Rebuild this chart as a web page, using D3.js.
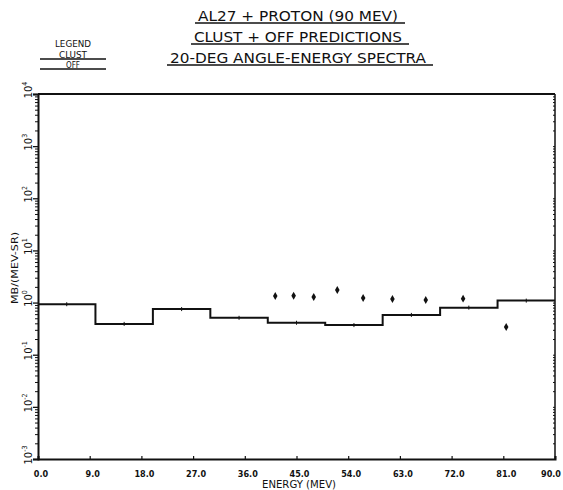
<!DOCTYPE html>
<html>
<head>
<meta charset="utf-8">
<script src="https://cdn.jsdelivr.net/npm/d3@7"></script>
<style>
body { margin: 0; background: #fff; }
text { font-family: "DejaVu Sans Condensed", "DejaVu Sans", sans-serif; fill: #111; }
</style>
</head>
<body>
<script>
var width = 563;
var height = 490;

// data
var titleLines = ["AL27 + PROTON (90 MEV)", "CLUST + OFF PREDICTIONS", "20-DEG ANGLE-ENERGY SPECTRA"];
var binEdges = [0, 10, 20, 30, 40, 50, 60, 70, 80, 90];
var clustValues = [0.93, 0.39, 0.75, 0.51, 0.41, 0.37, 0.58, 0.80, 1.09];
var dataEnergy = [41.3, 44.5, 48.0, 52.1, 56.6, 61.7, 67.5, 74.0, 81.5];
var dataValues = [1.34, 1.35, 1.28, 1.74, 1.22, 1.17, 1.12, 1.19, 0.34];
var xTicks = [0, 9, 18, 27, 36, 45, 54, 63, 72, 81, 90];
var yExponents = [-3, -2, -1, 0, 1, 2, 3, 4];

var plotLeft = 38, plotRight = 555, plotTop = 94, plotBottom = 459;

var x = d3.scaleLinear().domain([0, 90]).range([plotLeft, plotRight]);
var y = d3.scaleLog().domain([1e-3, 1e4]).range([plotBottom, plotTop]);

var svg = d3.select("body")
    .append("svg")
    .attr("width", width)
    .attr("height", height);

// titles
var titleW = [200, 208, 256];
titleLines.forEach(function(t, i) {
    var by = 21 + i * 21;
    svg.append("text")
        .attr("x", 298)
        .attr("y", by)
        .attr("text-anchor", "middle")
        .attr("font-size", 14)
        .attr("textLength", titleW[i])
        .attr("lengthAdjust", "spacingAndGlyphs")
        .text(t);
    svg.append("line")
        .attr("x1", 298 - titleW[i] / 2 - 3)
        .attr("x2", 298 + titleW[i] / 2 + 7)
        .attr("y1", by + 2).attr("y2", by + 2)
        .attr("stroke", "#111").attr("stroke-width", 1.3);
});

// legend
svg.append("text").attr("x", 73).attr("y", 47).attr("text-anchor", "middle")
    .attr("font-size", 9).attr("textLength", 36).attr("lengthAdjust", "spacingAndGlyphs").text("LEGEND");
svg.append("text").attr("x", 73).attr("y", 58).attr("text-anchor", "middle")
    .attr("font-size", 9).attr("textLength", 28).attr("lengthAdjust", "spacingAndGlyphs").text("CLUST");
svg.append("line").attr("x1", 40).attr("x2", 106).attr("y1", 59).attr("y2", 59)
    .attr("stroke", "#111").attr("stroke-width", 1.3);
svg.append("text").attr("x", 73).attr("y", 68).attr("text-anchor", "middle")
    .attr("font-size", 8).attr("fill", "#444").text("OFF");
svg.append("line").attr("x1", 40).attr("x2", 106).attr("y1", 69).attr("y2", 69)
    .attr("stroke", "#111").attr("stroke-width", 1.3);

// frame: top and right
svg.append("line").attr("x1", plotLeft).attr("x2", plotRight).attr("y1", plotTop).attr("y2", plotTop)
    .attr("stroke", "#111").attr("stroke-width", 2);
svg.append("line").attr("x1", plotRight).attr("x2", plotRight).attr("y1", plotTop).attr("y2", plotBottom)
    .attr("stroke", "#111").attr("stroke-width", 1.5);

// minor tick values for log axis
var minor = [];
for (var e = -3; e < 4; e++) {
    for (var m = 2; m <= 9; m++) minor.push(m * Math.pow(10, e));
}
var major = yExponents.map(function(p) { return Math.pow(10, p); });

var yAxis = svg.append("g")
    .attr("transform", "translate(" + plotLeft + ",0)")
    .call(d3.axisLeft(y).tickValues(major).tickSize(5).tickFormat(""));
yAxis.select(".domain").attr("stroke", "#111").attr("stroke-width", 2);
yAxis.selectAll(".tick line").attr("stroke", "#111").attr("stroke-width", 1.3);

svg.append("g")
    .attr("transform", "translate(" + plotLeft + ",0)")
    .call(d3.axisLeft(y).tickValues(minor).tickSize(3).tickFormat(""))
    .call(function(g) { g.select(".domain").remove(); })
    .selectAll(".tick line").attr("stroke", "#111").attr("stroke-width", 1);

svg.append("g")
    .attr("transform", "translate(" + plotRight + ",0)")
    .call(d3.axisLeft(y).tickValues(minor.concat(major)).tickSize(2).tickFormat(""))
    .call(function(g) { g.select(".domain").remove(); })
    .selectAll(".tick line").attr("stroke", "#111").attr("stroke-width", 1);

// y tick labels, rotated
yExponents.forEach(function(p) {
    var t = svg.append("text")
        .attr("transform", "translate(" + 32 + "," + (y(Math.pow(10, p)) - 4) + ") rotate(-90)")
        .attr("text-anchor", "middle")
        .attr("font-size", 11);
    t.append("tspan").text("10");
    t.append("tspan").attr("font-size", 7).attr("dy", -5).text(p);
});

// y title
svg.append("text")
    .attr("transform", "translate(18,268) rotate(-90)")
    .attr("text-anchor", "middle")
    .attr("font-size", 9)
    .attr("textLength", 72)
    .attr("lengthAdjust", "spacingAndGlyphs")
    .text("MB/(MEV-SR)");

// x axis
var xAxis = svg.append("g")
    .attr("transform", "translate(0," + plotBottom + ")")
    .call(d3.axisTop(x).tickValues(xTicks).tickSize(3).tickFormat(""));
xAxis.select(".domain").attr("stroke", "#111").attr("stroke-width", 2);
xAxis.selectAll(".tick line").attr("stroke", "#111").attr("stroke-width", 1.2);

svg.selectAll(".xlab")
    .data(xTicks)
    .enter().append("text")
    .attr("class", "xlab")
    .attr("x", function(d) { return Math.min(x(d) + 3, 551); })
    .attr("y", 477)
    .attr("text-anchor", "middle")
    .attr("font-size", 9)
    .attr("font-weight", "bold")
    .text(function(d) { return d.toFixed(1); });

svg.append("text")
    .attr("x", 299)
    .attr("y", 488)
    .attr("text-anchor", "middle")
    .attr("font-size", 10)
    .attr("textLength", 74)
    .attr("lengthAdjust", "spacingAndGlyphs")
    .text("ENERGY (MEV)");

// CLUST histogram
var steps = clustValues.map(function(v, i) { return { x0: binEdges[i], x1: binEdges[i + 1], v: v }; });
var pts = [];
steps.forEach(function(s) {
    pts.push([x(s.x0), y(s.v)]);
    pts.push([x(s.x1), y(s.v)]);
});
svg.append("path")
    .attr("d", d3.line()(pts))
    .attr("fill", "none")
    .attr("stroke", "#111")
    .attr("stroke-width", 2);

svg.selectAll(".mid")
    .data(steps)
    .enter().append("line")
    .attr("x1", function(d) { return x((d.x0 + d.x1) / 2); })
    .attr("x2", function(d) { return x((d.x0 + d.x1) / 2); })
    .attr("y1", function(d) { return y(d.v) - 2; })
    .attr("y2", function(d) { return y(d.v) + 2; })
    .attr("stroke", "#111")
    .attr("stroke-width", 1);

// data points
svg.selectAll(".pt")
    .data(dataEnergy)
    .enter().append("path")
    .attr("class", "pt")
    .attr("transform", function(d, i) { return "translate(" + x(d) + "," + y(dataValues[i]) + ")"; })
    .attr("d", d3.symbol().type(d3.symbolDiamond).size(18))
    .attr("fill", "#111");
</script>
</body>
</html>
